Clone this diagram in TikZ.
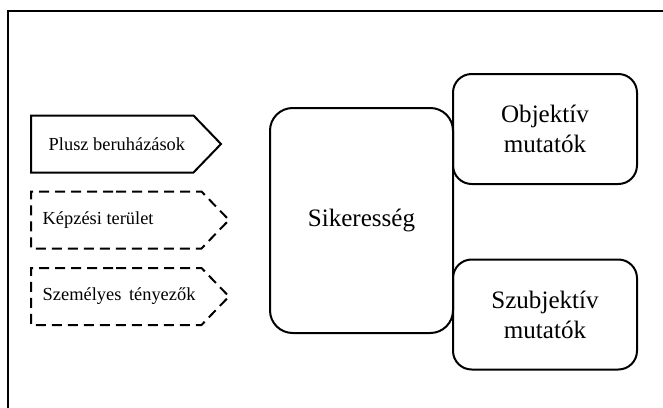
\documentclass[tikz,border=0pt]{standalone}
\usepackage{fontspec}
\setmainfont{Liberation Serif}
\usetikzlibrary{shapes.symbols}
\tikzset{
	tenyezo/.style={signal,signal to=east,signal pointer angle=92,draw,line width=1.5pt,minimum height=42.75pt,anchor=west},
	felirat/.style={anchor=west,font=\fontsize{13.8}{16}\selectfont},
	doboz/.style={draw,line width=1.5pt,align=center,font=\fontsize{18.8}{22.5}\selectfont}
}
\begin{document}
\begin{tikzpicture}[x=0.75pt,y=-0.75pt]
		\useasboundingbox (0,0) rectangle (663,407);
		\draw[line width=2pt] (8,430) |- (690,11);
		\node[tenyezo,minimum width=142.5pt,label={[felirat,xshift=10.5pt]west:Plusz beruházások}] (plusz) at (30,144) {};
		\node[tenyezo,dash pattern=on 7.5pt off 4.5pt,minimum width=148.5pt,label={[felirat,xshift=6pt]west:Képzési terület}] (kepzes) at (30,220) {};
		\node[tenyezo,dash pattern=on 7.5pt off 4.5pt,minimum width=148.5pt,label={[felirat,xshift=6pt]west:Személyes\ \,tényezők}] (szemely) at (30,296.5) {};
		\node[doboz,rounded corners=17pt,minimum width=137.25pt,minimum height=168.75pt] (siker) at (361.5,220.5) {Sikeresség};
		\node[doboz,rounded corners=14pt,minimum width=138pt,minimum height=82.5pt] (objektiv) at (545,129) {Objektív\\mutatók};
		\node[doboz,rounded corners=14pt,minimum width=138pt,minimum height=82.5pt] (szubjektiv) at (545,314.5) {Szubjektív\\mutatók};
\end{tikzpicture}
\end{document}
